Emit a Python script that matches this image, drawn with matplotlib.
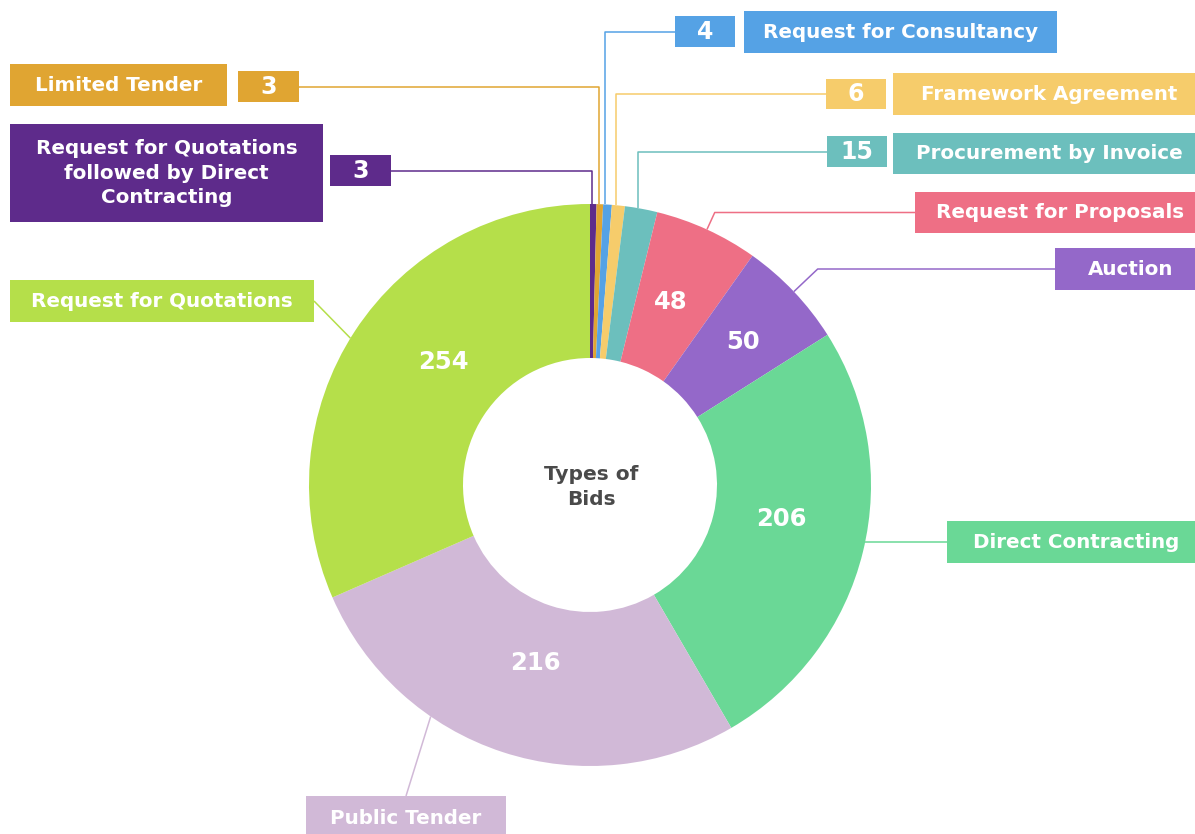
import numpy as np
import matplotlib
matplotlib.use("Agg")
import matplotlib.pyplot as plt
from matplotlib.patches import Rectangle

# ---- data ----
categories = ["Request for Quotations followed by Direct Contracting", "Limited Tender",
              "Request for Consultancy", "Framework Agreement", "Procurement by Invoice",
              "Request for Proposals", "Auction", "Direct Contracting", "Public Tender",
              "Request for Quotations"]
label_texts = ["Request for Quotations\nfollowed by Direct\nContracting", "Limited Tender",
               "Request for Consultancy", "Framework Agreement", "Procurement by Invoice",
               "Request for Proposals", "Auction", "Direct Contracting", "Public Tender",
               "Request for Quotations"]
values = [3, 3, 4, 6, 15, 48, 50, 206, 216, 254]
colors = ["#5E2B8B", "#E0A532", "#55A2E5", "#F6CC6B", "#6CBFBD",
          "#EE6F85", "#9468C9", "#6AD896", "#D1B9D7", "#B5DF4A"]
center_title = "Types of\nBids"

# ---- layout (pixels, y measured from top) ----
W, H = 1195, 834
CX, CY = 590, 485
R_OUT, R_IN = 281, 127

# name box (x0, y0, x1, y1), value box or None, side, leader mode, anchor fraction in slice
layout = [
    dict(name=(10, 124, 323, 222), val=(330, 155, 391, 186), side="L", mode="vert", frac=0.35),
    dict(name=(10, 64, 227, 106), val=(238, 71, 299, 102), side="L", mode="vert", frac=0.3),
    dict(name=(744, 11, 1057, 53), val=(675, 16, 735, 47), side="R", mode="vert", frac=0.25),
    dict(name=(893, 73, 1206, 115), val=(826, 79, 886, 109), side="R", mode="vert", frac=0.35),
    dict(name=(893, 133, 1206, 174), val=(827, 136, 887, 167), side="R", mode="vert", frac=0.4),
    dict(name=(915, 192, 1206, 233), val=None, side="R", mode="elbow", frac=0.5),
    dict(name=(1055, 248, 1206, 290), val=None, side="R", mode="elbow", frac=0.5),
    dict(name=(947, 521, 1206, 563), val=None, side="R", mode="horiz", frac=0.5),
    dict(name=(306, 796, 506, 842), val=None, side="B", mode="direct", frac=0.67),
    dict(name=(10, 280, 314, 322), val=None, side="L", mode="direct", frac=0.485),
]
# in-slice value label placement: (fraction along slice, radius) or None
inner_pos = [None, None, None, None, None,
             (0.47, 200), (0.52, 209), (0.46, 194), (0.49, 186), (0.56, 192)]

FONT = "DejaVu Sans"
plt.rcParams["font.family"] = [FONT]

fig = plt.figure(figsize=(W / 100, H / 100), dpi=100)
ax = fig.add_axes([0, 0, 1, 1])

def Y(y):
    return H - y

ax.pie(values, colors=colors, startangle=90, counterclock=False,
       radius=R_OUT, center=(CX, Y(CY)),
       wedgeprops=dict(width=R_OUT - R_IN, edgecolor="none", linewidth=0))
ax.set_xlim(0, W)
ax.set_ylim(0, H)
ax.set_aspect("auto")
ax.axis("off")

total = float(sum(values))
cum = np.concatenate([[0], np.cumsum(values)])

def polar(ang_deg, r):
    a = np.deg2rad(ang_deg)
    return CX + r * np.sin(a), CY - r * np.cos(a)

for i, (v, c, txt, lay) in enumerate(zip(values, colors, label_texts, layout)):
    a0 = cum[i] / total * 360
    a1 = cum[i + 1] / total * 360
    # inner value labels
    if inner_pos[i] is not None:
        f, r = inner_pos[i]
        tx, ty = polar(a0 + (a1 - a0) * f, r)
        ax.text(tx, Y(ty), str(v), color="white", fontsize=17.5, fontweight="bold",
                ha="center", va="center")
    # boxes
    nx0, ny0, nx1, ny1 = lay["name"]
    ax.add_patch(Rectangle((nx0, Y(ny1)), nx1 - nx0, ny1 - ny0, color=c, lw=0, zorder=3))
    ncx = (nx0 + nx1) / 2
    ncy = (ny0 + min(ny1, 840)) / 2
    ax.text(ncx, Y(ncy), txt, color="white", fontsize=14.3, fontweight="bold",
            ha="center", va="center", linespacing=1.38, zorder=4)
    if lay["val"] is not None:
        vx0, vy0, vx1, vy1 = lay["val"]
        ax.add_patch(Rectangle((vx0, Y(vy1)), vx1 - vx0, vy1 - vy0, color=c, lw=0, zorder=3))
        ax.text((vx0 + vx1) / 2, Y((vy0 + vy1) / 2), str(v), color="white", fontsize=17,
                fontweight="bold", ha="center", va="center", zorder=4)
        bx0, by0, bx1, by1 = lay["val"]
    else:
        bx0, by0, bx1, by1 = lay["name"]
    # leader anchor on box
    if lay["side"] == "R":
        end = (bx0, (by0 + by1) / 2)
    elif lay["side"] == "L":
        end = (bx1, (by0 + by1) / 2)
    else:
        end = ((bx0 + bx1) / 2, by0)
    aa = a0 + (a1 - a0) * lay["frac"]
    p0 = polar(aa, R_OUT)
    if lay["mode"] == "elbow":
        r_e = (CY - end[1]) / np.cos(np.deg2rad(aa))
        pe = polar(aa, r_e)
        pts = [p0, pe, end]
    elif lay["mode"] == "vert":
        pts = [p0, (p0[0], end[1]), end]
    elif lay["mode"] == "horiz":
        dy = end[1] - CY
        xe = CX + np.sqrt(R_OUT ** 2 - dy ** 2)
        pts = [(xe - 1, end[1]), end]
    else:
        pts = [p0, end]
    xs = [p[0] for p in pts]
    ys = [Y(p[1]) for p in pts]
    ax.plot(xs, ys, color=c, lw=1.1, zorder=2, solid_capstyle="butt")

ax.text(CX + 1, Y(CY + 2), center_title, color="#4A4A4A", fontsize=14.5,
        fontweight="semibold", ha="center", va="center", linespacing=1.45)

fig.savefig("out.png", dpi=100)
